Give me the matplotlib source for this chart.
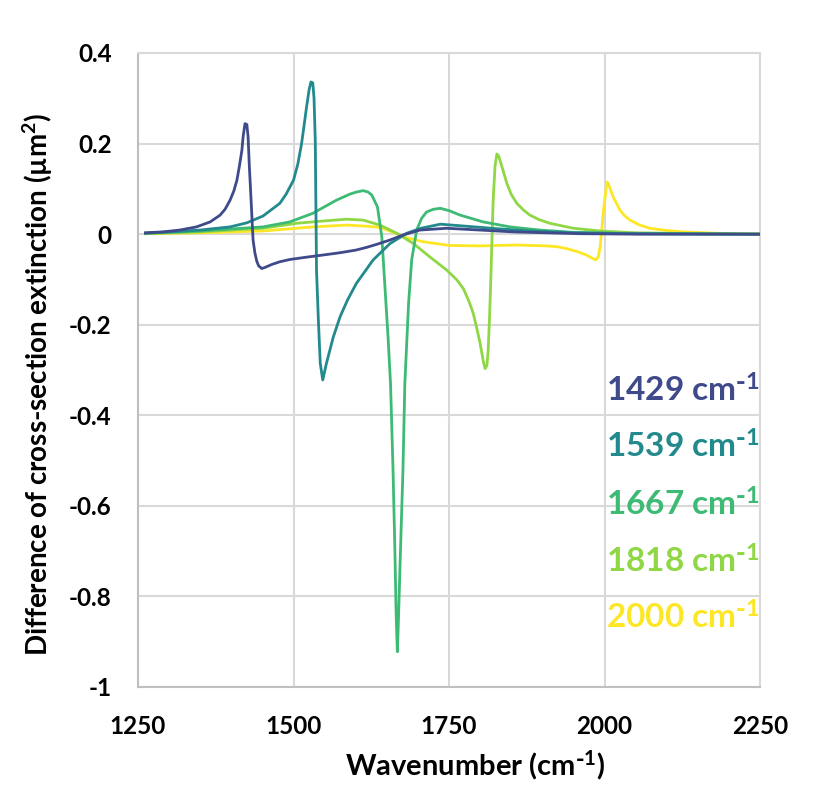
import matplotlib
matplotlib.use('Agg')
import matplotlib.pyplot as plt

# 数据
labels = ['1429', '1539', '1667', '1818', '2000']
colors = ['#3f4a8a', '#22898d', '#3dba74', '#8fd744', '#fde725']

x_1429 = [1262, 1290, 1317, 1344, 1366, 1382, 1390, 1398, 1404, 1409, 1413, 1417, 1419, 1422, 1425, 1427,
          1429, 1431, 1435, 1438, 1441, 1444, 1449, 1455, 1465, 1478, 1494, 1520, 1548, 1575, 1601, 1618,
          1635, 1655, 1676, 1703, 1746, 1800, 1853, 1907, 1960, 2050, 2150, 2250]
y_1429 = [0.003, 0.005, 0.009, 0.016, 0.027, 0.042, 0.055, 0.075, 0.095, 0.119, 0.150, 0.185, 0.215, 0.244,
          0.242, 0.215, 0.150, 0.097, -0.013, -0.042, -0.060, -0.070, -0.076, -0.073, -0.067, -0.061, -0.056,
          -0.051, -0.046, -0.041, -0.035, -0.029, -0.022, -0.013, -0.002, 0.009, 0.013, 0.009, 0.005, 0.003,
          0.001, 0.0, 0.0, 0.0]

x_1539 = [1262, 1300, 1350, 1398, 1425, 1451, 1478, 1488, 1500, 1507, 1513, 1517, 1521, 1525, 1528, 1531,
          1533, 1535, 1537, 1540, 1543, 1547, 1553, 1564, 1575, 1587, 1601, 1628, 1655, 1682, 1705, 1736,
          1773, 1827, 1880, 1950, 2050, 2250]
y_1539 = [0.002, 0.005, 0.009, 0.016, 0.025, 0.040, 0.068, 0.088, 0.119, 0.155, 0.200, 0.240, 0.281, 0.318,
          0.336, 0.334, 0.300, 0.207, -0.080, -0.190, -0.285, -0.322, -0.285, -0.227, -0.182, -0.145, -0.109,
          -0.057, -0.021, 0.002, 0.013, 0.022, 0.018, 0.012, 0.007, 0.003, 0.001, 0.0]

x_1667 = [1262, 1350, 1451, 1494, 1531, 1569, 1590, 1601, 1612, 1620, 1626, 1635, 1642, 1647, 1652, 1656,
          1660, 1663, 1665, 1667, 1669, 1672, 1676, 1679, 1685, 1690, 1698, 1706, 1714, 1725, 1736, 1750,
          1768, 1805, 1848, 1896, 1950, 2050, 2250]
y_1667 = [0.002, 0.007, 0.016, 0.027, 0.046, 0.075, 0.088, 0.093, 0.096, 0.093, 0.086, 0.060, -0.006, -0.116,
          -0.227, -0.330, -0.520, -0.698, -0.840, -0.922, -0.840, -0.698, -0.520, -0.330, -0.153, -0.057,
          0.009, 0.035, 0.049, 0.055, 0.057, 0.052, 0.042, 0.027, 0.016, 0.009, 0.004, 0.001, 0.0]

x_1818 = [1262, 1350, 1451, 1505, 1548, 1585, 1612, 1639, 1666, 1693, 1719, 1746, 1762, 1773, 1782, 1789,
          1795, 1800, 1805, 1808, 1811, 1813, 1815, 1817, 1819, 1821, 1824, 1827, 1830, 1836, 1843, 1850,
          1859, 1870, 1880, 1895, 1912, 1950, 1993, 2050, 2150, 2250]
y_1818 = [0.001, 0.005, 0.013, 0.024, 0.029, 0.033, 0.031, 0.020, 0.002, -0.021, -0.050, -0.079, -0.100,
          -0.120, -0.148, -0.175, -0.210, -0.241, -0.280, -0.297, -0.290, -0.256, -0.190, -0.109, -0.015,
          0.075, 0.150, 0.177, 0.172, 0.145, 0.112, 0.088, 0.068, 0.053, 0.042, 0.032, 0.024, 0.013, 0.007,
          0.003, 0.001, 0.0]

x_2000 = [1262, 1350, 1451, 1532, 1585, 1612, 1639, 1660, 1677, 1709, 1751, 1800, 1859, 1907, 1925, 1939,
          1955, 1971, 1980, 1986, 1990, 1993, 1995, 1997, 1999, 2001, 2004, 2006, 2010, 2014, 2020, 2025,
          2032, 2041, 2055, 2073, 2100, 2127, 2180, 2250]
y_2000 = [0.001, 0.003, 0.007, 0.016, 0.020, 0.018, 0.015, 0.004, -0.006, -0.017, -0.025, -0.026, -0.024,
          -0.026, -0.028, -0.032, -0.038, -0.046, -0.053, -0.057, -0.050, -0.028, 0.000, 0.031, 0.060, 0.082,
          0.115, 0.112, 0.097, 0.082, 0.066, 0.053, 0.041, 0.031, 0.021, 0.013, 0.008, 0.005, 0.002, 0.0]

xs = [x_1429, x_1539, x_1667, x_1818, x_2000]
ys = [y_1429, y_1539, y_1667, y_1818, y_2000]

x_ticks = [1250, 1500, 1750, 2000, 2250]
y_ticks = [0.4, 0.2, 0, -0.2, -0.4, -0.6, -0.8, -1]
y_tick_labels = ['0.4', '0.2', '0', '-0.2', '-0.4', '-0.6', '-0.8', '-1']
label_y = [-0.371, -0.494, -0.622, -0.747, -0.872]

plt.rcParams['font.family'] = ['Lato', 'DejaVu Sans']
plt.rcParams['font.weight'] = 'bold'
plt.rcParams['mathtext.default'] = 'regular'

fig = plt.figure(figsize=(8.23, 8.05), dpi=100)
ax = fig.add_axes([138 / 823, 1 - 687 / 805, (760 - 138) / 823, (687 - 53) / 805])

# 反向绘制，使 1429 在最上层
for i in range(len(labels) - 1, -1, -1):
    ax.plot(xs[i], ys[i], color=colors[i], lw=2.0, solid_joinstyle='round', zorder=3 + (5 - i))

ax.set_xlim(1250, 2250)
ax.set_ylim(-1, 0.4)
ax.set_xticks(x_ticks)
ax.set_yticks(y_ticks)
ax.set_yticklabels(y_tick_labels)
ax.tick_params(axis='both', length=0, labelsize=17.5)
ax.tick_params(axis='y', pad=19)
ax.tick_params(axis='x', pad=20)
ax.grid(True, color='#d9d9d9', lw=1.5, zorder=0)
ax.set_axisbelow(True)
for s in ['top', 'right']:
    ax.spines[s].set_color('#d9d9d9')
    ax.spines[s].set_linewidth(1.5)
for s in ['left', 'bottom']:
    ax.spines[s].set_color('#bfbfbf')
    ax.spines[s].set_linewidth(1.5)

sup = r'$^{\text{-}1}$'
for i, lab in enumerate(labels):
    ax.text(2250, label_y[i], lab + ' cm' + sup, color=colors[i], fontsize=24,
            ha='right', va='baseline', fontweight='bold', zorder=10)

fig.text(475 / 823, 1 - 775 / 805, 'Wavenumber (cm' + sup + ')', fontsize=21, ha='center', va='baseline')
fig.text(38 / 823, 1 - 384 / 805, 'Difference of cross-section extinction (µm$^{2}$)', fontsize=20,
         ha='center', va='center', rotation=90)

plt.savefig('out.png', dpi=100)
plt.close()
